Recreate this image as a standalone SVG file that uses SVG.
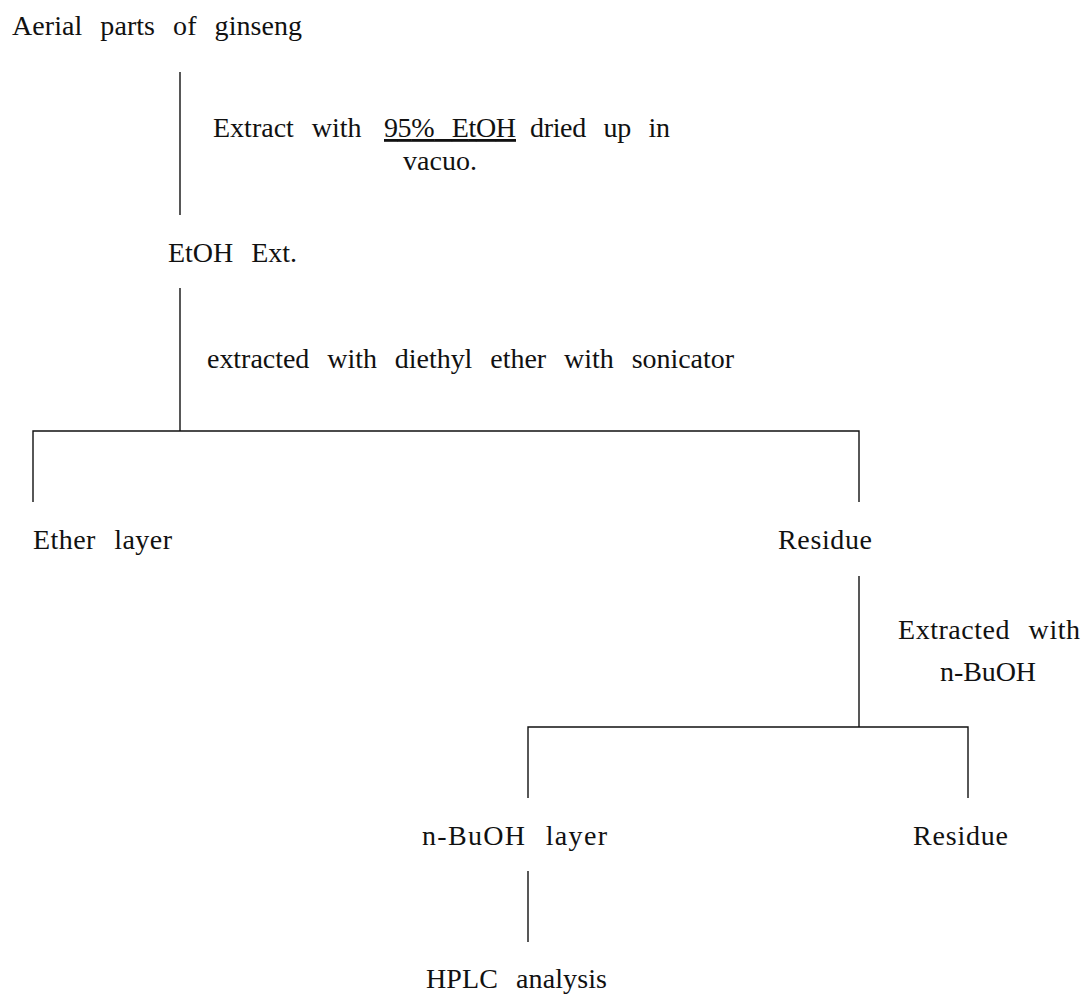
<svg xmlns="http://www.w3.org/2000/svg" width="1086" height="995" viewBox="0 0 1086 995">
<style>
text{font-family:"Liberation Serif","Times New Roman",serif;font-size:28px;fill:#111;word-spacing:11px}
.ln{stroke:#111;stroke-width:1.4;fill:none}
.ul{text-decoration:underline}
</style>
<rect width="1086" height="995" fill="#fff"/>
<g id="connectors">
<line class="ln" x1="180" y1="72" x2="180" y2="215"/>
<line class="ln" x1="180" y1="288" x2="180" y2="431"/>
<polyline class="ln" points="33,502 33,431 859,431 859,502"/>
<line class="ln" x1="859" y1="576" x2="859" y2="727"/>
<polyline class="ln" points="528,798 528,727 968,727 968,798"/>
<line class="ln" x1="528" y1="871" x2="528" y2="942"/>
</g>
<g id="n-aerial"><text x="12" y="35" textLength="290" lengthAdjust="spacing">Aerial parts of ginseng</text></g>
<g id="l-extract"><text x="213" y="137">Extract with <tspan x="384" class="ul" textLength="132" lengthAdjust="spacing">95% EtOH</tspan> <tspan x="530" textLength="140" lengthAdjust="spacing">dried up in</tspan></text>
<text x="440" y="170" text-anchor="middle">vacuo.</text></g>
<g id="n-etoh"><text x="168" y="262" textLength="129" lengthAdjust="spacing">EtOH Ext.</text></g>
<g id="l-ether"><text x="207" y="368" textLength="527" lengthAdjust="spacing">extracted with diethyl ether with sonicator</text></g>
<g id="n-etherlayer"><text x="33" y="549" textLength="139" lengthAdjust="spacing">Ether layer</text></g>
<g id="n-residue1"><text x="778" y="549" textLength="94" lengthAdjust="spacing">Residue</text></g>
<g id="l-buoh"><text x="898" y="639" textLength="182" lengthAdjust="spacing">Extracted with</text>
<text x="940" y="681" textLength="96" lengthAdjust="spacing">n-BuOH</text></g>
<g id="n-buohlayer"><text x="422" y="845" textLength="185" lengthAdjust="spacing">n-BuOH layer</text></g>
<g id="n-residue2"><text x="913" y="845" textLength="95" lengthAdjust="spacing">Residue</text></g>
<g id="n-hplc"><text x="426" y="988" textLength="181" lengthAdjust="spacing">HPLC analysis</text></g>
</svg>
